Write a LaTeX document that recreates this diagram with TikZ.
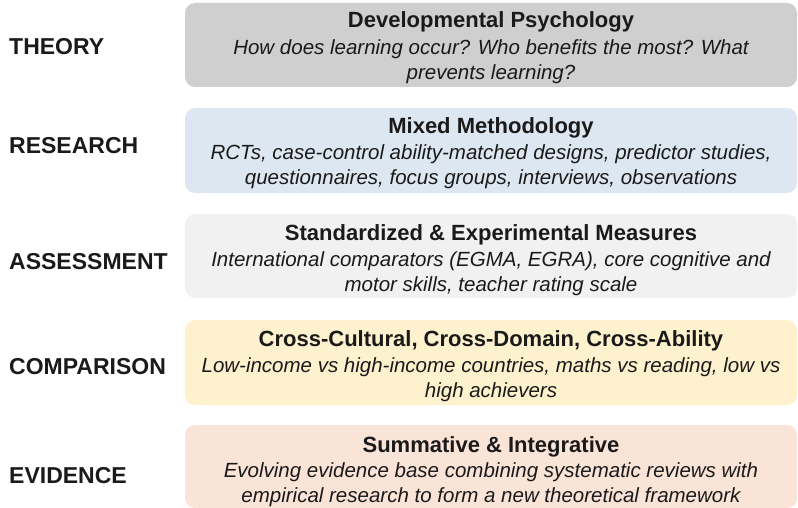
\documentclass[tikz,border=0pt]{standalone}
\usepackage{fontspec}
\setmainfont{Liberation Sans}
\definecolor{txt}{HTML}{1A1A1A}
\definecolor{cTheory}{HTML}{D0CFCF}
\definecolor{cResearch}{HTML}{DDE7F1}
\definecolor{cAssess}{HTML}{F1F1F1}
\definecolor{cCompare}{HTML}{FEF1CD}
\definecolor{cEvidence}{HTML}{FAE3D7}
\tikzset{
  box/.style={draw=none, rounded corners=10pt, minimum width=612pt, inner sep=0pt},
  lbl/.style={anchor=west, inner sep=0pt, text=txt, font=\fontsize{23}{26}\selectfont\bfseries},
  ttl/.style={anchor=base, inner sep=0pt, text=txt, font=\fontsize{22}{26}\selectfont\bfseries},
  itl/.style={anchor=base, inner sep=0pt, text=txt, font=\fontsize{20.5}{25}\selectfont\itshape},
}
\begin{document}
\begin{tikzpicture}[x=1pt,y=-1pt]
\useasboundingbox (0,0) rectangle (798,508);
% boxes
\node[box, fill=cTheory,   minimum height=84pt] (b1) at (491,45) {};
\node[box, fill=cResearch, minimum height=85pt] (b2) at (491,150.5) {};
\node[box, fill=cAssess,   minimum height=84pt] (b3) at (491,256) {};
\node[box, fill=cCompare,  minimum height=85pt] (b4) at (491,362.5) {};
\node[box, fill=cEvidence, minimum height=83pt] (b5) at (491,466.5) {};
% labels
\node[lbl] (l1) at (9,46.5) {THEORY};
\node[lbl] (l2) at (9,146) {RESEARCH};
\node[lbl] (l3) at (9,262) {ASSESSMENT};
\node[lbl] (l4) at (9,367) {COMPARISON};
\node[lbl] (l5) at (9,476) {EVIDENCE};
% box 1
\node[ttl] (t1) at (491,28) {Developmental Psychology};
\node[itl] (t1a) at (491,55) {How does learning occur? Who benefits the most? What};
\node[itl] (t1b) at (491,80) {prevents learning?};
% box 2
\node[ttl] (t2) at (491,134) {Mixed Methodology};
\node[itl] (t2a) at (491,160) {RCTs, case-control ability-matched designs, predictor studies,};
\node[itl] (t2b) at (491,185) {questionnaires, focus groups, interviews, observations};
% box 3
\node[ttl] (t3) at (491,240) {Standardized \& Experimental Measures};
\node[itl] (t3a) at (491,266) {International comparators (EGMA, EGRA), core cognitive and};
\node[itl] (t3b) at (491,291) {motor skills, teacher rating scale};
% box 4
\node[ttl] (t4) at (491,346) {Cross-Cultural, Cross-Domain, Cross-Ability};
\node[itl] (t4a) at (491,372) {Low-income vs high-income countries, maths vs reading, low vs};
\node[itl] (t4b) at (491,397) {high achievers};
% box 5
\node[ttl] (t5) at (491,452) {Summative \& Integrative};
\node[itl] (t5a) at (491,477) {Evolving evidence base combining systematic reviews with};
\node[itl] (t5b) at (491,502) {empirical research to form a new theoretical framework};
\end{tikzpicture}
\end{document}
